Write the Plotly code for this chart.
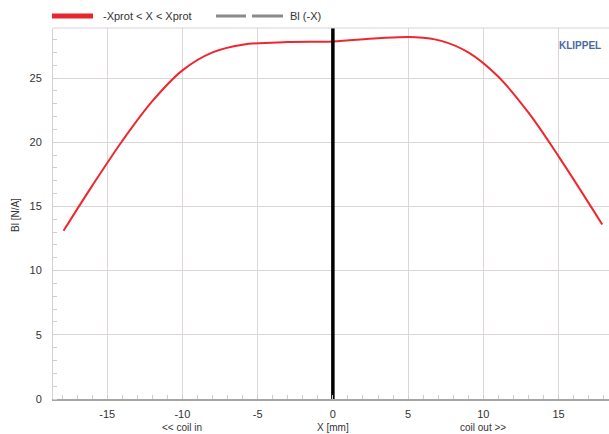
import plotly.graph_objects as go

# Data
x_mm = [-17.9, -16, -14, -12, -10, -8, -6, -3, 0, 3, 5.5, 7.2, 9, 11, 13, 15, 17.9]
bl_values = [13.1, 16.6, 20.1, 23.2, 25.6, 27.0, 27.6, 27.8, 27.85, 28.1, 28.18, 27.9, 27.0, 25.1, 22.3, 18.9, 13.6]
x_ticks = [-15, -10, -5, 0, 5, 10, 15]
x_tick_labels = ["-15", "-10", "-5", "0", "5", "10", "15"]
y_ticks = [0, 5, 10, 15, 20, 25]
y_tick_labels = ["0", "5", "10", "15", "20", "25"]
x_range = [-18.6, 18.35]
y_range = [0, 28.9]
legend_names = ["-Xprot < X < Xprot", "Bl (-X)"]

font_fam = "Liberation Sans, Arial, sans-serif"
grid_col = "#ddd6d6"
txt_col = "#333333"

L, T, B, W, H = 53, 28, 35, 609, 434
PW, PH = W - L, H - T - B


def px_x(px):
    return (px - L) / PW


def px_y(py):
    return (H - B - py) / PH


fig = go.Figure()

# main curve
fig.add_trace(go.Scatter(x=x_mm, y=bl_values, mode="lines", showlegend=False,
                         line=dict(color="#f0262e", width=2, shape="spline", smoothing=1.0)))

# zero marker line
fig.add_trace(go.Scatter(x=[0, 0], y=y_range, mode="lines", showlegend=False,
                         line=dict(color="black", width=3.5)))

ly = px_y(16)
shapes = [
    dict(type="line", xref="paper", yref="paper", x0=0, x1=1, y0=1, y1=1,
         line=dict(color="#d6d2d2", width=1)),
    # legend symbols
    dict(type="line", xref="paper", yref="paper", x0=px_x(52), x1=px_x(93), y0=ly, y1=ly,
         line=dict(color="#e8242c", width=5)),
    dict(type="line", xref="paper", yref="paper", x0=px_x(216), x1=px_x(246), y0=ly, y1=ly,
         line=dict(color="#8a8a8a", width=3)),
    dict(type="line", xref="paper", yref="paper", x0=px_x(252), x1=px_x(283), y0=ly, y1=ly,
         line=dict(color="#8a8a8a", width=3)),
]

annotations = [
    dict(text=legend_names[0], x=px_x(101), xref="paper", y=ly, yref="paper", showarrow=False,
         xanchor="left", yanchor="middle", font=dict(size=11, color=txt_col)),
    dict(text=legend_names[1], x=px_x(288), xref="paper", y=ly, yref="paper", showarrow=False,
         xanchor="left", yanchor="middle", font=dict(size=11, color=txt_col)),
    dict(text="Bl [N/A]", x=px_x(15), xref="paper", y=px_y(215), yref="paper", showarrow=False,
         textangle=-90, xanchor="center", yanchor="middle", font=dict(size=10, color=txt_col)),
    dict(text="<< coil in", x=-10, xref="x", y=px_y(428), yref="paper", showarrow=False,
         font=dict(size=10, color=txt_col), yanchor="middle"),
    dict(text="X [mm]", x=0, xref="x", y=px_y(428), yref="paper", showarrow=False,
         font=dict(size=10, color=txt_col), yanchor="middle"),
    dict(text="coil out >>", x=10, xref="x", y=px_y(428), yref="paper", showarrow=False,
         font=dict(size=10, color=txt_col), yanchor="middle"),
    dict(text="<b>KLIPPEL</b>", x=px_x(580), xref="paper", y=px_y(46), yref="paper", showarrow=False,
         font=dict(size=10, color="#4a6aa0"), xanchor="center", yanchor="middle"),
]

fig.update_layout(
    width=W, height=H,
    margin=dict(l=L, r=0, t=T, b=B, autoexpand=False),
    paper_bgcolor="white", plot_bgcolor="white",
    font=dict(family=font_fam, size=11, color=txt_col),
    showlegend=False,
    xaxis=dict(range=x_range, tickvals=x_ticks, ticktext=x_tick_labels, showgrid=True,
               gridcolor=grid_col, gridwidth=1,
               zeroline=False, showline=True, linecolor="#a8a4a4", linewidth=2,
               ticks="", tickfont=dict(size=11, color=txt_col), ticklabelstandoff=4,
               minor=dict(ticks="inside", dtick=1, ticklen=4, tickcolor="#d0cccc", showgrid=False)),
    yaxis=dict(range=y_range, tickvals=y_ticks, ticktext=y_tick_labels, showgrid=True,
               gridcolor=grid_col, gridwidth=1,
               zeroline=False, showline=True, linecolor="#d6d2d2", linewidth=1,
               ticks="", tickfont=dict(size=11, color=txt_col), ticklabelstandoff=8,
               minor=dict(ticks="inside", dtick=1, ticklen=4, tickcolor="#d0cccc", showgrid=False)),
    shapes=shapes,
    annotations=annotations,
)

fig.write_html("out.html", config={"displayModeBar": False},
               post_script="document.body.style.margin='0';document.body.style.padding='0';")
